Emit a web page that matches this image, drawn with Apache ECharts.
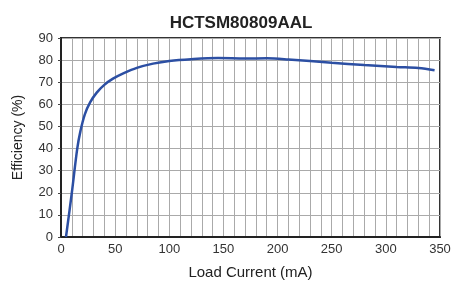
<!DOCTYPE html>
<html>
<head>
<meta charset="utf-8">
<script src="https://cdn.jsdelivr.net/npm/echarts@6/dist/echarts.min.js"></script>
<style>
  html, body { margin: 0; padding: 0; background: #fff; }
  #chart { width: 466px; height: 282px; }
</style>
</head>
<body>
<div id="chart"></div>
<script>
// load current (mA) and efficiency (%)
const loadCurrent = [4.6, 10, 15, 18, 22, 27, 33, 40, 48, 58, 70, 85, 100, 120, 145, 170, 190, 210, 250, 280, 310, 330, 345];
const efficiency = [0, 20, 40, 48, 55.5, 61, 65.3, 68.8, 71.6, 74.1, 76.5, 78.4, 79.6, 80.4, 80.9, 80.7, 80.8, 80.3, 78.8, 77.8, 76.9, 76.4, 75.4];

const chartDom = document.getElementById("chart");
const myChart = echarts.init(chartDom);

const font = "'Liberation Sans', Arial, sans-serif";

const option = {
  animation: false,
  title: {
    text: "HCTSM80809AAL",
    left: 236,
    textAlign: "center",
    top: 10,
    textStyle: {
      fontFamily: font,
      fontWeight: "bold",
      fontSize: 17,
      color: "#222",
    },
  },
  grid: {
    left: 61,
    right: 26,
    top: 38,
    bottom: 45,
    outerBoundsMode: "none",
    show: true,
    borderColor: "#333",
    borderWidth: 2,
  },
  xAxis: {
    type: "value",
    min: 0,
    max: 350,
    interval: 10,
    name: "Load Current (mA)",
    nameLocation: "middle",
    nameGap: 28,
    nameTextStyle: { fontFamily: font, fontSize: 15, color: "#222" },
    axisLine: { lineStyle: { color: "#222", width: 2 } },
    axisTick: { show: false },
    axisLabel: {
      fontFamily: font,
      fontSize: 13,
      color: "#333",
      margin: 6,
      formatter: (v) => (v % 50 === 0 ? String(v) : ""),
    },
    splitLine: { lineStyle: { color: "#aaa", width: 1 } },
  },
  yAxis: {
    type: "value",
    min: 0,
    max: 90,
    interval: 10,
    name: "Efficiency (%)",
    nameLocation: "middle",
    nameGap: 36,
    nameTextStyle: { fontFamily: font, fontSize: 14, color: "#222" },
    axisLine: { show: true, lineStyle: { color: "#222", width: 2 } },
    axisTick: { show: true, length: 3, lineStyle: { color: "#444" } },
    axisLabel: { fontFamily: font, fontSize: 13, color: "#333", margin: 8 },
    splitLine: { lineStyle: { color: "#aaa", width: 1 } },
  },
  series: [
    {
      type: "line",
      data: loadCurrent.map((x, i) => [x, efficiency[i]]),
      smooth: 0.35,
      showSymbol: false,
      lineStyle: { color: "#2c4fa3", width: 2.5 },
    },
  ],
};

myChart.setOption(option);
</script>
</body>
</html>
